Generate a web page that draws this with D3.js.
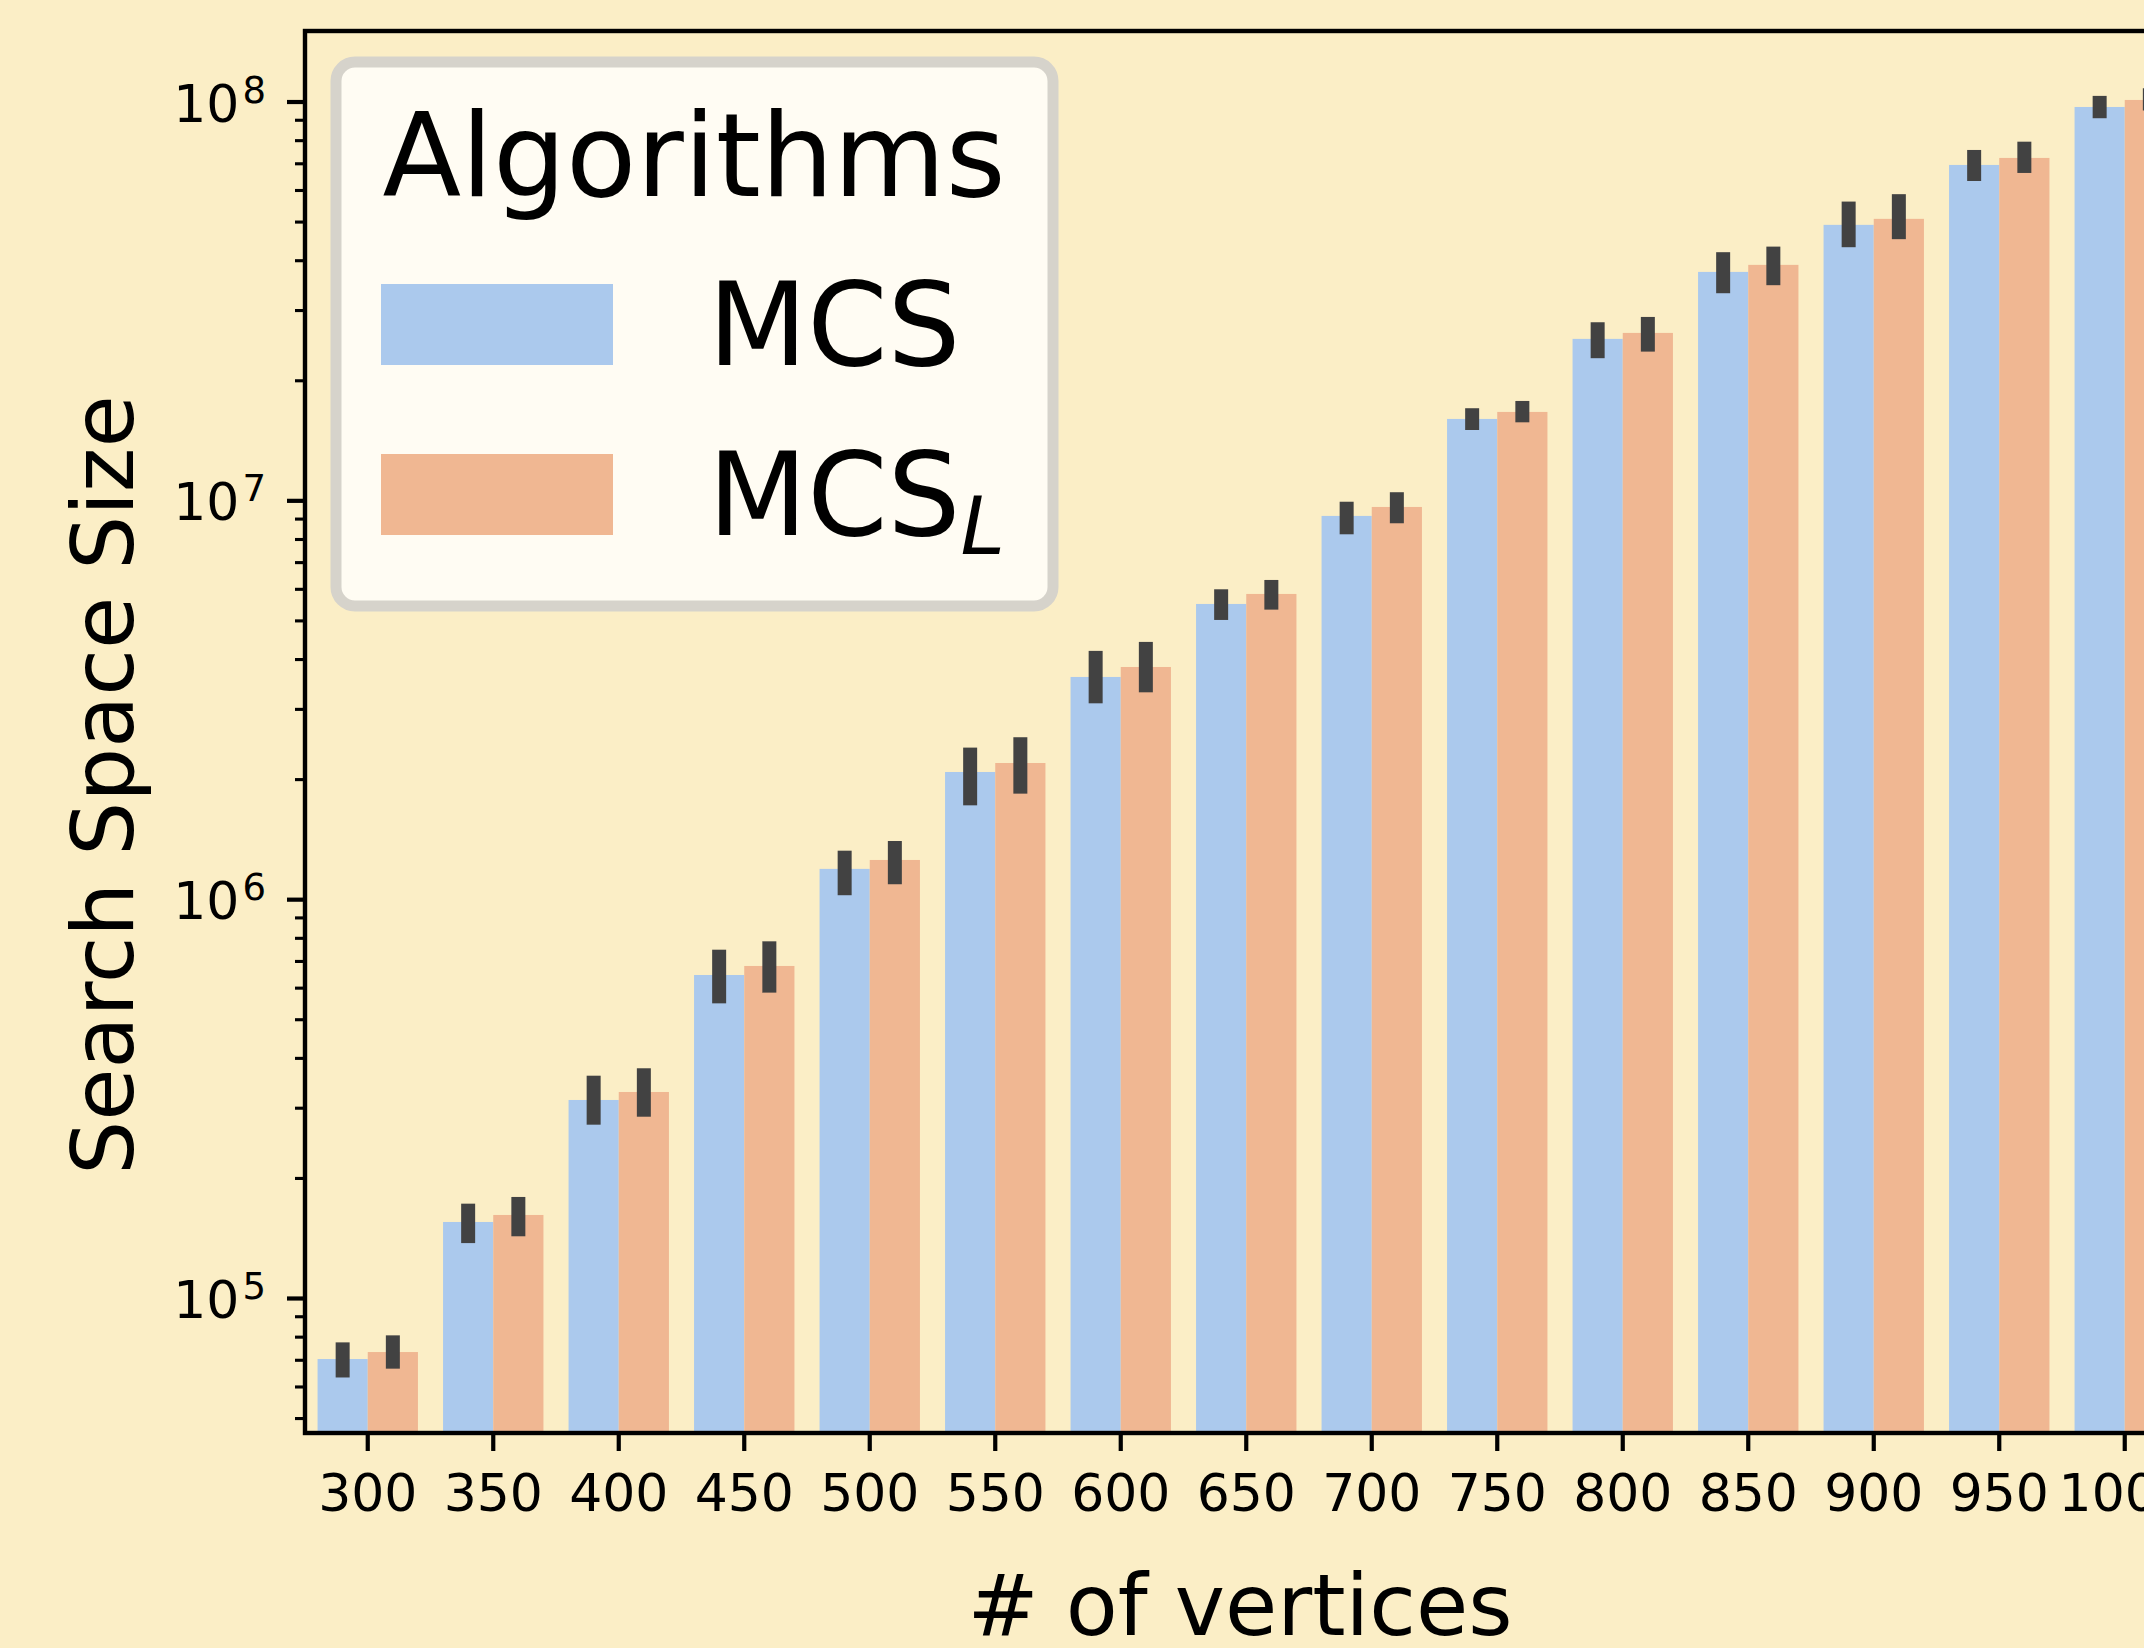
<!DOCTYPE html>
<html>
<head>
<meta charset="utf-8">
<script src="https://cdn.jsdelivr.net/npm/d3@7"></script>
<style>
    html, body { margin: 0; padding: 0; overflow: hidden; background: #fbeec6; }
    svg { display: block; font-family: "DejaVu Sans", sans-serif; }
</style>
</head>
<body>
<div id="chart"></div>
<script>
// values (log scale)
const vertices = [300, 350, 400, 450, 500, 550, 600, 650, 700, 750, 800, 850, 900, 950, 1000];
const algorithms = ['MCS', 'MCS_L'];

const mcsMean = [7.03e4, 1.551e5, 3.137e5, 6.455e5, 1.191e6, 2.084e6, 3.607e6, 5.498e6, 9.14e6, 1.600e7, 2.540e7, 3.739e7, 4.906e7, 6.934e7, 9.69e7];
const mcsLow  = [6.32e4, 1.373e5, 2.720e5, 5.48e5, 1.023e6, 1.719e6, 3.098e6, 5.013e6, 8.22e6, 1.501e7, 2.272e7, 3.306e7, 4.312e7, 6.32e7, 9.08e7];
const mcsHigh = [7.74e4, 1.724e5, 3.609e5, 7.47e5, 1.323e6, 2.399e6, 4.193e6, 5.984e6, 9.92e6, 1.702e7, 2.796e7, 4.19e7, 5.612e7, 7.56e7, 1.033e8];

const mcslMean = [7.32e4, 1.615e5, 3.285e5, 6.80e5, 1.254e6, 2.195e6, 3.821e6, 5.825e6, 9.625e6, 1.666e7, 2.629e7, 3.894e7, 5.079e7, 7.22e7, 1.009e8];
const mcslLow  = [6.65e4, 1.428e5, 2.848e5, 5.83e5, 1.090e6, 1.839e6, 3.301e6, 5.321e6, 8.76e6, 1.569e7, 2.360e7, 3.463e7, 4.517e7, 6.62e7, 9.50e7];
const mcslHigh = [8.06e4, 1.792e5, 3.767e5, 7.84e5, 1.399e6, 2.547e6, 4.416e6, 6.315e6, 1.048e7, 1.775e7, 2.883e7, 4.327e7, 5.857e7, 7.93e7, 1.080e8];

const yMajorTicks = [1e5, 1e6, 1e7, 1e8];
const yMajorExp = [5, 6, 7, 8];

const colors = {MCS: '#abc9ed', MCS_L: '#f0b792'};

const width = 2144, height = 1648;
// axes box; the right part runs past the picture edge like in the original
const padLeft = 305, padTop = 31, padBottom = 1433, step = 125.5;
const padRight = padLeft + step * vertices.length;

const rows = [];
vertices.forEach((v, i) => {
    rows.push({v, alg: 'MCS', mean: mcsMean[i], lo: mcsLow[i], hi: mcsHigh[i]});
    rows.push({v, alg: 'MCS_L', mean: mcslMean[i], lo: mcslLow[i], hi: mcslHigh[i]});
});

const svg = d3.select('#chart')
    .append('svg')
    .attr('width', width)
    .attr('height', height);

const x = d3.scaleBand()
    .domain(vertices)
    .range([padLeft, padRight])
    .paddingInner(0.2)
    .paddingOuter(0.1);
const xHue = d3.scaleBand()
    .domain(algorithms)
    .range([0, x.bandwidth()]);
const y = d3.scaleLog()
    .domain([Math.pow(10, 4.6615), Math.pow(10, 8.1768)])
    .range([padBottom, padTop]);

svg.append('defs')
    .append('clipPath')
    .attr('id', 'clip')
    .append('rect')
    .attr('x', padLeft)
    .attr('y', padTop)
    .attr('width', padRight - padLeft)
    .attr('height', padBottom - padTop);

const plot = svg.append('g').attr('clip-path', 'url(#clip)');

plot.selectAll('rect.bar')
    .data(rows)
    .enter()
    .append('rect')
    .attr('class', 'bar')
    .attr('x', d => x(d.v) + xHue(d.alg))
    .attr('width', xHue.bandwidth())
    .attr('y', d => y(d.mean))
    .attr('height', d => padBottom - y(d.mean))
    .attr('fill', d => colors[d.alg]);

plot.selectAll('line.err')
    .data(rows)
    .enter()
    .append('line')
    .attr('class', 'err')
    .attr('x1', d => x(d.v) + xHue(d.alg) + xHue.bandwidth() / 2)
    .attr('x2', d => x(d.v) + xHue(d.alg) + xHue.bandwidth() / 2)
    .attr('y1', d => y(d.lo))
    .attr('y2', d => y(d.hi))
    .attr('stroke', '#424242')
    .attr('stroke-width', 14);

// x axis
const xAxis = svg.append('g')
    .attr('transform', `translate(0, ${padBottom})`)
    .call(d3.axisBottom(x).tickSize(18).tickPadding(23));
xAxis.select('.domain').remove();
xAxis.selectAll('line').attr('stroke', '#000').attr('stroke-width', 4.2);
xAxis.selectAll('text')
    .attr('font-size', 52)
    .attr('font-family', '"DejaVu Sans"')
    .attr('fill', '#000');

// y axis: minor ticks, major ticks, then 10^n labels
const minorTicks = [];
for (let e = 4; e <= 8; e++) {
    for (let m = 2; m <= 9; m++) {
        const t = m * Math.pow(10, e);
        if (t >= y.domain()[0] && t <= y.domain()[1]) minorTicks.push(t);
    }
}
const yMinor = svg.append('g')
    .attr('transform', `translate(${padLeft}, 0)`)
    .call(d3.axisLeft(y).tickValues(minorTicks).tickSize(10).tickFormat(''));
yMinor.select('.domain').remove();
yMinor.selectAll('line').attr('stroke', '#000').attr('stroke-width', 3.1);

const yMajor = svg.append('g')
    .attr('transform', `translate(${padLeft}, 0)`)
    .call(d3.axisLeft(y).tickValues(yMajorTicks).tickSize(18).tickFormat(''));
yMajor.select('.domain').remove();
yMajor.selectAll('line').attr('stroke', '#000').attr('stroke-width', 4.2);

const yLabels = svg.append('g')
    .selectAll('text')
    .data(yMajorTicks)
    .enter()
    .append('text')
    .attr('x', 266)
    .attr('y', d => y(d) + 20)
    .attr('text-anchor', 'end')
    .attr('font-size', 52)
    .attr('fill', '#000');
yLabels.append('tspan').text('10');
yLabels.append('tspan')
    .attr('font-size', 37)
    .attr('dy', -19)
    .attr('dx', 3)
    .text((d, i) => yMajorExp[i]);

// frame
svg.append('rect')
    .attr('x', padLeft)
    .attr('y', padTop)
    .attr('width', padRight - padLeft)
    .attr('height', padBottom - padTop)
    .attr('fill', 'none')
    .attr('stroke', '#000')
    .attr('stroke-width', 4.4);

// axis titles
svg.append('text')
    .attr('x', 1240)
    .attr('y', 1635)
    .attr('text-anchor', 'middle')
    .attr('font-size', 85)
    .text('# of vertices');

svg.append('text')
    .attr('transform', 'translate(133, 785) rotate(-90)')
    .attr('text-anchor', 'middle')
    .attr('font-size', 85)
    .text('Search Space Size');

// legend
const legend = svg.append('g');
legend.append('rect')
    .attr('x', 336)
    .attr('y', 62)
    .attr('width', 717)
    .attr('height', 544)
    .attr('rx', 19)
    .attr('fill', '#fffcf3')
    .attr('stroke', '#d6d3cb')
    .attr('stroke-width', 11);

legend.append('text')
    .attr('x', 694)
    .attr('y', 196)
    .attr('text-anchor', 'middle')
    .attr('font-size', 115)
    .text('Algorithms');

const entries = legend.selectAll('g.entry')
    .data(algorithms)
    .enter()
    .append('g')
    .attr('class', 'entry')
    .attr('transform', (d, i) => `translate(0, ${i * 170})`);

entries.append('rect')
    .attr('x', 381)
    .attr('y', 284)
    .attr('width', 232)
    .attr('height', 81)
    .attr('fill', d => colors[d]);

const entryText = entries.append('text')
    .attr('x', 708)
    .attr('y', 365)
    .attr('font-size', 115);
entryText.append('tspan').text('MCS');
entryText.filter(d => d === 'MCS_L')
    .append('tspan')
    .attr('font-size', 80)
    .attr('font-style', 'italic')
    .attr('dy', 19)
    .attr('dx', 0)
    .text('L');
</script>
</body>
</html>
